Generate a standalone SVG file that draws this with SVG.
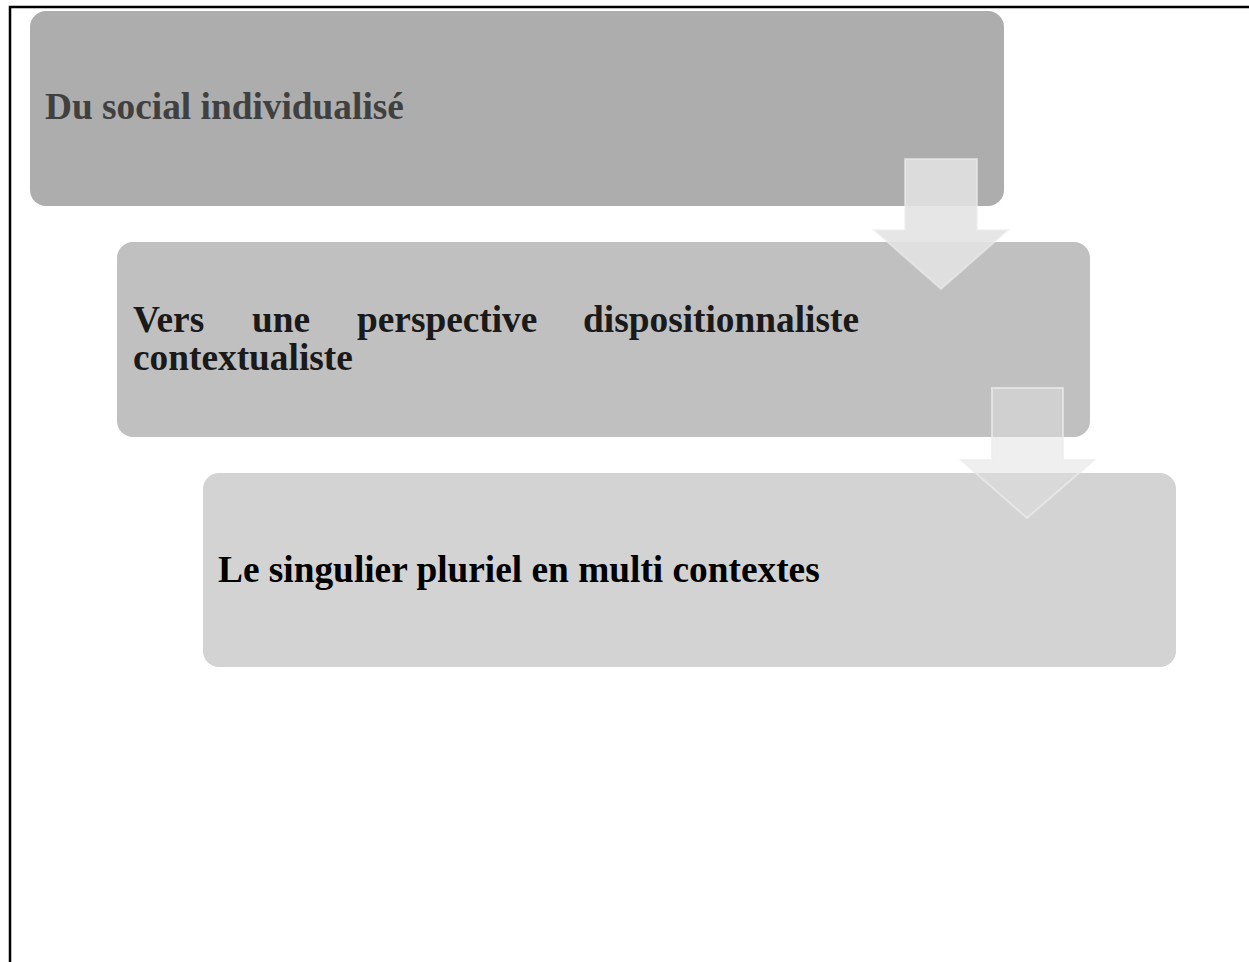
<svg xmlns="http://www.w3.org/2000/svg" width="1249" height="962" viewBox="0 0 1249 962">
<style>
.lbl{font-family:"Liberation Serif","Times New Roman",serif;font-weight:bold;font-size:37.33px}
.arrow{stroke:#ececec;stroke-width:2}
</style>
<rect x="0" y="0" width="1249" height="962" fill="#ffffff"/>
<rect id="frame" x="10" y="7" width="1260" height="1000" fill="none" stroke="#000000" stroke-width="2.5"/>
<g id="node1">
<rect x="30" y="11" width="974" height="195" rx="16" ry="16" fill="#adadad"/>
<text class="lbl" x="45" y="119" fill="#404040">Du social individualisé</text>
</g>
<g id="node2">
<rect x="117" y="242" width="973" height="195" rx="16" ry="16" fill="#c0c0c0"/>
<text class="lbl" y="332" fill="#1a1a1a"><tspan x="133">Vers</tspan><tspan x="252">une</tspan><tspan x="357">perspective</tspan><tspan x="859" text-anchor="end">dispositionnaliste</tspan></text>
<text class="lbl" x="133" y="370" fill="#1a1a1a">contextualiste</text>
</g>
<g id="node3">
<rect x="203" y="473" width="973" height="194" rx="16" ry="16" fill="#d3d3d3"/>
<text class="lbl" x="218" y="582" fill="#000000">Le singulier pluriel en multi contextes</text>
</g>
<g id="connectors">
<polygon class="arrow" points="905,159 977,159 977,230 1008,230 941,289 874,230 905,230" fill="#e3e3e3" fill-opacity="0.88" stroke-opacity="0.6"/>
<polygon class="arrow" points="992,388 1063,388 1063,460 1094,460 1027,518 961,460 992,460" fill="#e0e0e0" fill-opacity="0.5" stroke-opacity="0.7"/>
</g>
</svg>
